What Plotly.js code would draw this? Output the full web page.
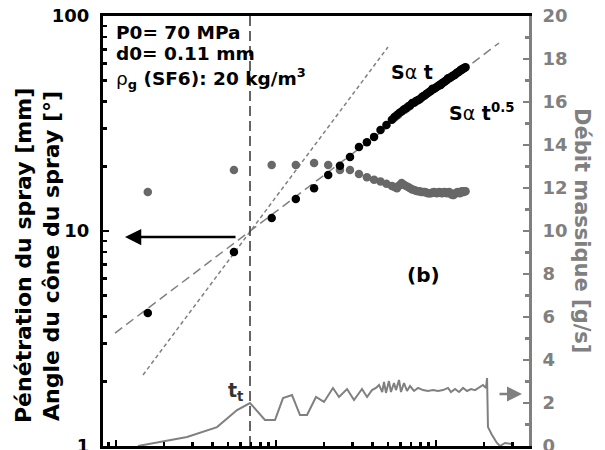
<!DOCTYPE html>
<html>
<head>
<meta charset="utf-8">
<script src="https://cdn.plot.ly/plotly-3.0.1.min.js"></script>
<style>html,body{margin:0;padding:0;background:#fff;}#chart{width:605px;height:450px;}</style>
</head>
<body>
<div id="chart"></div>
<script>
// ---- data (time in ms) ----
const timeMs = [0.0158, 0.0546, 0.094, 0.133, 0.173, 0.212, 0.251, 0.29, 0.33, 0.37,
  0.41, 0.45, 0.49,
  0.53, 0.55, 0.57, 0.59, 0.61, 0.63, 0.65, 0.67, 0.69, 0.71,
  0.73, 0.75, 0.77, 0.79, 0.81, 0.83, 0.85, 0.87, 0.89, 0.91,
  0.93, 0.95, 0.97, 0.99, 1.01, 1.03, 1.05, 1.07, 1.09, 1.11,
  1.13, 1.15, 1.17, 1.19, 1.21, 1.23, 1.25, 1.27, 1.29, 1.31,
  1.33, 1.35, 1.37, 1.39, 1.41, 1.43, 1.45, 1.47, 1.49, 1.51,
  1.53];
const penetrationMm = [4.16, 7.99, 11.5, 14.1, 15.8, 18.2, 20.1, 22.1, 24.6, 25.9,
  27.4, 29.5, 31.1,
  32.9, 33.9, 34.6, 35.4, 36.0, 36.7, 37.2, 37.9, 38.4, 39.4,
  39.5, 40.2, 40.6, 41.0, 41.7, 42.3, 42.7, 43.4, 43.8, 44.4,
  44.8, 45.9, 45.8, 46.3, 46.7, 47.3, 47.7, 47.8, 48.6, 49.1,
  49.5, 50.0, 50.4, 51.3, 51.3, 51.8, 52.2, 52.6, 53.0, 53.2,
  53.9, 54.3, 54.7, 55.1, 55.5, 56.3, 56.3, 56.7, 57.1, 57.4,
  57.8];
const sprayAngleDeg = [15.2, 19.2, 20.3, 20.3, 20.7, 20.3, 19.2, 19.2, 18.4, 17.8,
  17.3, 17.0, 16.6,
  16.2, 16.0, 15.8, 16.3, 16.7, 16.4, 16.2, 16.0, 15.8, 15.6,
  15.5, 15.4, 15.3, 15.3, 15.2, 15.2, 15.2, 15.1, 15.0, 15.0,
  15.0, 15.1, 15.2, 15.1, 15.0, 15.1, 15.2, 15.1, 15.0, 15.1,
  15.2, 15.1, 15.0, 15.1, 15.2, 15.0, 14.8, 14.7, 14.7, 14.9,
  15.0, 15.1, 15.2, 15.1, 15.0, 15.2, 15.3, 15.2, 15.2, 15.3,
  15.3];
const flowTimeMs = [0.01372, 0.0278, 0.0428, 0.0571, 0.0688, 0.0853, 0.0986, 0.1106, 0.1259, 0.1413,
  0.1563, 0.1778, 0.1995, 0.227, 0.2477, 0.278, 0.3073, 0.3447, 0.3707, 0.398,
  0.4217, 0.4406, 0.4613, 0.473, 0.487, 0.508, 0.523, 0.5464, 0.5623, 0.5875,
  0.6045, 0.631, 0.659, 0.688, 0.729, 0.772, 0.83, 0.891, 0.958, 1.029,
  1.106, 1.189, 1.241, 1.315, 1.393, 1.476, 1.563, 1.656, 1.754, 1.858,
  1.967, 2.054, 2.085, 2.113, 2.239, 2.404, 2.512, 2.698, 2.985];
const flowRateGs = [0.0, 0.42, 0.88, 1.67, 2.0, 1.21, 1.21, 2.23, 2.37, 1.44,
  1.44, 2.28, 2.05, 2.70, 2.28, 2.65, 2.14, 2.65, 2.28, 2.60,
  2.70, 2.84, 2.51, 2.98, 2.47, 3.02, 2.51, 2.93, 2.60, 3.07,
  2.51, 2.93, 2.56, 2.79, 2.56, 2.70, 2.60, 2.56, 2.60, 2.56,
  2.60, 2.70, 2.51, 2.65, 2.51, 2.70, 2.56, 2.65, 2.60, 2.74,
  2.84, 2.70, 3.16, 0.88, 0.51, 0.14, 0.0, 0.14, 0.09];
// reference slopes (end points)
const slopeHalfT = [0.00986, 2.477];
const slopeHalfV = [3.35, 74.9];
const slopeOneT = [0.01475, 0.501];
const slopeOneV = [2.14, 71.7];
const transitionT = [0.0688, 0.0688];
const transitionV = [1, 100];
// ticks
const xMajor = [0.01, 0.1, 1];
const xMinor = [0.009, 0.02, 0.03, 0.04, 0.05, 0.06, 0.07, 0.08, 0.09, 0.2, 0.3, 0.4, 0.5, 0.6, 0.7, 0.8, 0.9, 2, 3];
const yMajor = [1, 10, 100];
const yMajorText = ['1', '10', '100'];
const yMinor = [2, 3, 4, 5, 6, 7, 8, 9, 20, 30, 40, 50, 60, 70, 80, 90];
const y2Major = [0, 2, 4, 6, 8, 10, 12, 14, 16, 18, 20];

const FONT = 'DejaVu Sans, Verdana, sans-serif';
const GREY = '#808080';
const DOT = '#686868';

const traces = [
  {x: slopeHalfT, y: slopeHalfV, mode: 'lines', line: {color: GREY, width: 1.5, dash: '9px,5px'}, yaxis: 'y', hoverinfo: 'skip'},
  {x: slopeOneT, y: slopeOneV, mode: 'lines', line: {color: GREY, width: 1.5, dash: '4px,3px'}, yaxis: 'y', hoverinfo: 'skip'},
  {x: transitionT, y: transitionV, mode: 'lines', line: {color: '#333', width: 1.5, dash: '10px,5px'}, yaxis: 'y', hoverinfo: 'skip'},
  {x: flowTimeMs, y: flowRateGs, mode: 'lines', line: {color: GREY, width: 2}, yaxis: 'y2'},
  {x: timeMs, y: sprayAngleDeg, mode: 'markers', marker: {color: DOT, size: 8.5}, yaxis: 'y'},
  {x: timeMs, y: penetrationMm, mode: 'markers', marker: {color: '#000', size: 8.5}, yaxis: 'y'}
];

const W = 426, H = 430, L = 103, T = 16;
const px = v => (v - L) / W;
const py = v => (T + H - v) / H;
const f = (size, color) => ({family: FONT, size: size, color: color || '#000', weight: 700});

const layout = {
  width: 605, height: 450,
  margin: {l: L, r: 605 - L - W, t: T, b: 450 - T - H},
  paper_bgcolor: '#fff', plot_bgcolor: '#fff',
  showlegend: false,
  font: f(18),
  xaxis: {
    type: 'log', range: [-2.08125, 0.58125],
    showline: true, linecolor: '#000', linewidth: 3, mirror: true,
    showgrid: false, zeroline: false,
    tickmode: 'array', tickvals: xMajor, ticks: 'inside', ticklen: 6, tickwidth: 2.5, tickcolor: '#000',
    showticklabels: false,
    minor: {tickmode: 'array', tickvals: xMinor, ticks: 'inside', ticklen: 4, tickwidth: 2.5, tickcolor: '#000', showgrid: false}
  },
  yaxis: {
    type: 'log', range: [0, 2],
    showline: true, linecolor: '#000', linewidth: 3,
    showgrid: false, zeroline: false,
    tickmode: 'array', tickvals: yMajor, ticktext: yMajorText,
    ticks: 'inside', ticklen: 6, tickwidth: 2.5, tickcolor: '#000',
    tickfont: f(18), ticklabelstandoff: 7, ticklabeloverflow: 'allow',
    minor: {tickmode: 'array', tickvals: yMinor, ticks: 'inside', ticklen: 4, tickwidth: 2.5, tickcolor: '#000', showgrid: false}
  },
  yaxis2: {
    overlaying: 'y', side: 'right', range: [0, 20],
    showline: true, linecolor: GREY, linewidth: 3,
    showgrid: false, zeroline: false,
    tickmode: 'array', tickvals: y2Major,
    ticks: 'inside', ticklen: 6, tickwidth: 2.5, tickcolor: GREY,
    tickfont: f(18, GREY), ticklabelstandoff: 7, ticklabeloverflow: 'allow',
    minor: {dtick: 1, ticks: 'inside', ticklen: 4, tickwidth: 2.5, tickcolor: GREY, showgrid: false}
  },
  annotations: [
    {xref: 'paper', yref: 'paper', x: px(23), y: py(256), text: 'Pénétration du spray [mm]', textangle: -90, showarrow: false, xanchor: 'center', yanchor: 'middle', font: f(22)},
    {xref: 'paper', yref: 'paper', x: px(51), y: py(256), text: 'Angle du cône du spray [°]', textangle: -90, showarrow: false, xanchor: 'center', yanchor: 'middle', font: f(22)},
    {xref: 'paper', yref: 'paper', x: px(582), y: py(230), text: 'Débit massique [g/s]', textangle: 90, showarrow: false, xanchor: 'center', yanchor: 'middle', font: f(21, GREY)},
    {xref: 'paper', yref: 'paper', x: px(114), y: py(32), text: 'P0= 70 MPa', showarrow: false, xanchor: 'left', yanchor: 'middle', font: f(18.5)},
    {xref: 'paper', yref: 'paper', x: px(114), y: py(54), text: 'd0= 0.11 mm', showarrow: false, xanchor: 'left', yanchor: 'middle', font: f(18.5)},
    {xref: 'paper', yref: 'paper', x: px(114), y: py(78), text: '<span style="font-weight:normal">ρ</span><sub>g</sub> (SF6): 20 kg/m<sup>3</sup>', showarrow: false, xanchor: 'left', yanchor: 'middle', font: f(18.5)},
    {xref: 'paper', yref: 'paper', x: px(412), y: py(72), text: 'S<span style="font-weight:normal">α</span> t', showarrow: false, xanchor: 'center', yanchor: 'middle', font: f(19)},
    {xref: 'paper', yref: 'paper', x: px(481), y: py(112), text: 'S<span style="font-weight:normal">α</span> t<sup>0.5</sup>', showarrow: false, xanchor: 'center', yanchor: 'middle', font: f(19)},
    {xref: 'paper', yref: 'paper', x: px(423), y: py(275), text: '(b)', showarrow: false, xanchor: 'center', yanchor: 'middle', font: f(20)},
    {xref: 'paper', yref: 'paper', x: px(236), y: py(391), text: 't<sub>t</sub>', showarrow: false, xanchor: 'center', yanchor: 'middle', font: f(19, '#333')},
    {xref: 'paper', yref: 'paper', x: px(125), y: py(237), text: '', showarrow: true, ax: 112, ay: 0, arrowhead: 2, arrowsize: 1.3, arrowwidth: 2.5, arrowcolor: '#000'},
    {xref: 'paper', yref: 'paper', x: px(522), y: py(394), text: '', showarrow: true, ax: -24, ay: 0, arrowhead: 2, arrowsize: 1.2, arrowwidth: 2.5, arrowcolor: GREY}
  ]
};

Plotly.newPlot('chart', traces, layout, {displayModeBar: false, staticPlot: true});
</script>
</body>
</html>
